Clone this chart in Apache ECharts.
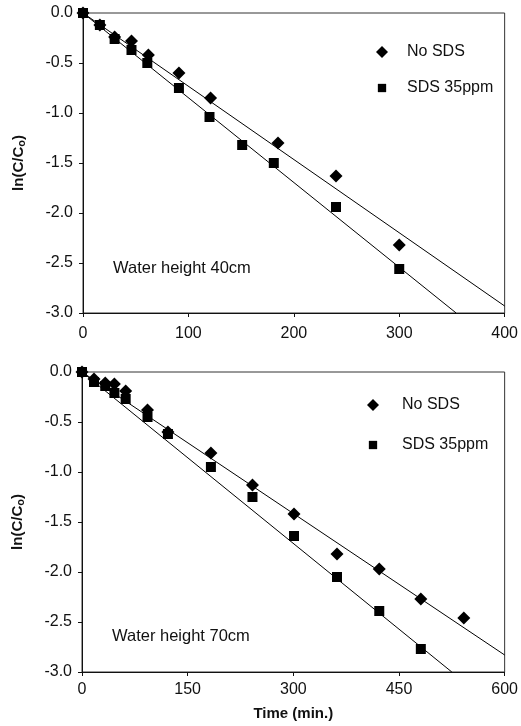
<!DOCTYPE html>
<html>
<head>
<meta charset="utf-8">
<script src="https://cdn.jsdelivr.net/npm/echarts@6/dist/echarts.min.js"></script>
<style>html,body{margin:0;padding:0;background:#fff}#c{width:521px;height:726px}</style>
</head>
<body>
<div id="c"></div>
<script>
// ---- Data ----
// Top panel: water height 40cm
var top_noSDS_t = [0, 16, 30, 46, 62, 91, 121, 185, 240, 300];
var top_noSDS_v = [0, -0.12, -0.24, -0.28, -0.42, -0.60, -0.85, -1.30, -1.63, -2.32];
var top_sds_t = [0, 16, 30, 46, 61, 91, 120, 151, 181, 240, 300];
var top_sds_v = [0, -0.12, -0.26, -0.37, -0.50, -0.75, -1.04, -1.32, -1.50, -1.94, -2.56];
var top_fit_noSDS = [[0, 0], [400, -2.93]];
var top_fit_sds = [[0, 0], [354, -3.0]];
var top_xTicks = [0, 100, 200, 300, 400];

// Bottom panel: water height 70cm
var bot_noSDS_t = [0, 17, 33, 46, 62, 93, 122, 183, 242, 301, 362, 422, 481, 542];
var bot_noSDS_v = [0, -0.07, -0.11, -0.12, -0.19, -0.38, -0.60, -0.81, -1.13, -1.42, -1.82, -1.97, -2.27, -2.46];
var bot_sds_t = [0, 17, 33, 46, 62, 93, 122, 183, 242, 301, 362, 422, 481];
var bot_sds_v = [0, -0.10, -0.14, -0.21, -0.27, -0.45, -0.62, -0.95, -1.25, -1.64, -2.05, -2.39, -2.77];
var bot_fit_noSDS = [[0, 0], [600, -2.83]];
var bot_fit_sds = [[0, 0], [525, -3.0]];
var bot_xTicks = [0, 150, 300, 450, 600];

var yTicks = [0.0, -0.5, -1.0, -1.5, -2.0, -2.5, -3.0];
var seriesNames = ['No SDS', 'SDS 35ppm'];
var panelLabels = ['Water height 40cm', 'Water height 70cm'];

function zip(a, b) { return a.map(function (v, i) { return [v, b[i]]; }); }

var FONT = 'Liberation Sans, Arial, sans-serif';
var chart = echarts.init(document.getElementById('c'), null, {renderer: 'canvas'});

function yAxisCfg(gi) {
  return {
    gridIndex: gi, type: 'value', min: yTicks[yTicks.length - 1], max: yTicks[0], interval: 0.5,
    name: 'ln(C/C{sub|o})', nameLocation: 'middle', nameGap: 56, nameRotate: 90,
    nameTextStyle: {fontFamily: FONT, fontSize: 15, fontWeight: 'bold', color: '#111',
      rich: {sub: {fontFamily: FONT, fontSize: 11, fontWeight: 'bold', color: '#111', verticalAlign: 'bottom', padding: [6, 0, 0, 0]}}},
    axisLine: {show: true, onZero: false, lineStyle: {color: '#111', width: 1}},
    axisTick: {show: true, length: 4, lineStyle: {color: '#111'}},
    axisLabel: {fontFamily: FONT, fontSize: 16, color: '#111', margin: 10,
      formatter: function (v) { return v.toFixed(1); }},
    splitLine: {show: false}
  };
}
function xAxisCfg(gi, ticks, withName, margin) {
  var c = {
    gridIndex: gi, type: 'value', min: ticks[0], max: ticks[ticks.length - 1], interval: ticks[1] - ticks[0],
    axisLine: {show: true, onZero: false, lineStyle: {color: '#111', width: 1}},
    axisTick: {show: true, length: 4, lineStyle: {color: '#111'}},
    axisLabel: {fontFamily: FONT, fontSize: 16, color: '#111', margin: margin},
    splitLine: {show: false}
  };
  if (withName) {
    c.name = 'Time (min.)'; c.nameLocation = 'middle'; c.nameGap = 34;
    c.nameTextStyle = {fontFamily: FONT, fontSize: 15, fontWeight: 'bold', color: '#111'};
  }
  return c;
}
function scatter(name, gi, data, symbol, size) {
  return {name: name, type: 'scatter', xAxisIndex: gi, yAxisIndex: gi, data: data,
    symbol: symbol, symbolSize: size, itemStyle: {color: '#000', opacity: 1}, z: 5};
}
function fit(gi, data) {
  return {name: 'fit', type: 'line', xAxisIndex: gi, yAxisIndex: gi, data: data,
    showSymbol: false, symbol: 'none', lineStyle: {color: '#000', width: 1}, z: 3, silent: true};
}
// legend icons (square drawn smaller than the diamond, as in the reference)
var legendData = [
  {name: seriesNames[0], icon: 'diamond', itemStyle: {color: '#000', opacity: 1}},
  {name: seriesNames[1], icon: 'path://M0,0M2,2L11,2L11,11L2,11ZM13,13', itemStyle: {color: '#000', opacity: 1}}
];

chart.setOption({
  animation: false,
  backgroundColor: '#fff',
  grid: [
    {left: 83, top: 13, width: 425, height: 300, show: true, borderColor: '#333', borderWidth: 1},
    {left: 82, top: 372, width: 426, height: 300, show: true, borderColor: '#333', borderWidth: 1}
  ],
  xAxis: [xAxisCfg(0, top_xTicks, false, 13), xAxisCfg(1, bot_xTicks, true, 10)],
  yAxis: [yAxisCfg(0), yAxisCfg(1)],
  legend: [
    {data: legendData, orient: 'vertical', left: 376, top: 44, padding: 0, itemWidth: 12, itemHeight: 12, itemGap: 20,
      selectedMode: false, textStyle: {fontFamily: FONT, fontSize: 16, color: '#111', padding: [0, 0, 0, 14]}},
    {data: legendData, orient: 'vertical', left: 367, top: 397, padding: 0, itemWidth: 12, itemHeight: 12, itemGap: 24,
      selectedMode: false, textStyle: {fontFamily: FONT, fontSize: 16, color: '#111', padding: [0, 0, 0, 18]}}
  ],
  graphic: [
    {type: 'text', left: 113, top: 260, style: {text: panelLabels[0], font: '16.5px ' + FONT, fill: '#111'}},
    {type: 'text', left: 112, top: 628, style: {text: panelLabels[1], font: '16.5px ' + FONT, fill: '#111'}}
  ],
  series: [
    fit(0, top_fit_noSDS), fit(0, top_fit_sds),
    scatter(seriesNames[0], 0, zip(top_noSDS_t, top_noSDS_v), 'diamond', 13),
    scatter(seriesNames[1], 0, zip(top_sds_t, top_sds_v), 'rect', 10),
    fit(1, bot_fit_noSDS), fit(1, bot_fit_sds),
    scatter(seriesNames[0], 1, zip(bot_noSDS_t, bot_noSDS_v), 'diamond', 13),
    scatter(seriesNames[1], 1, zip(bot_sds_t, bot_sds_v), 'rect', 10)
  ]
});
</script>
</body>
</html>
